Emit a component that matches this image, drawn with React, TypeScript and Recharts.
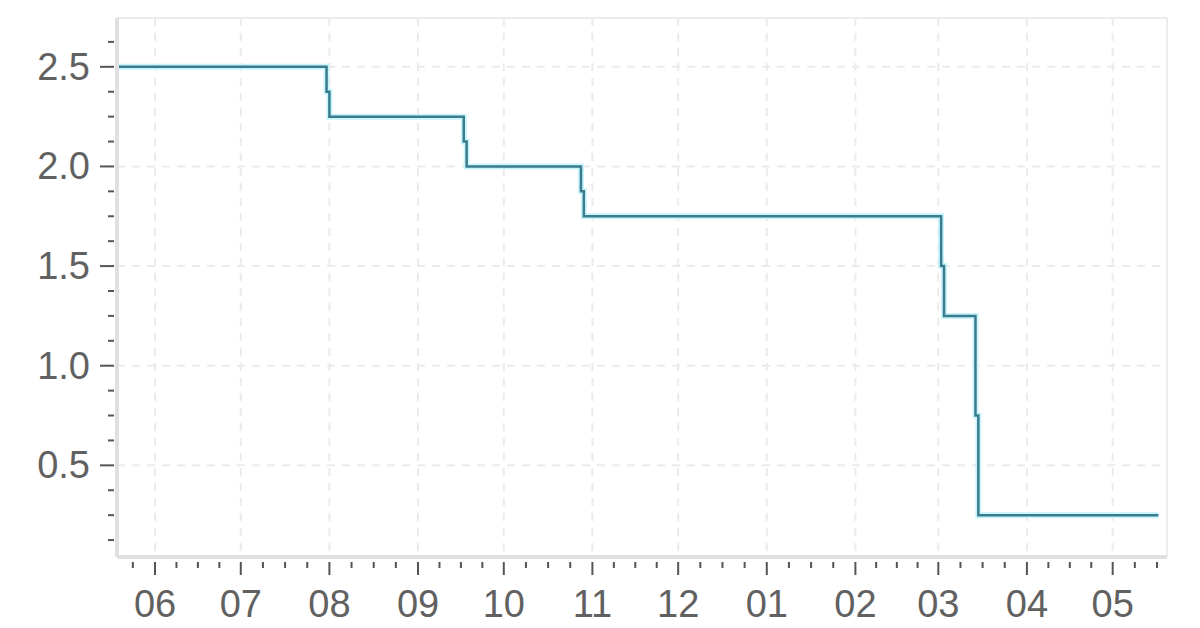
import React from 'react';
import { LineChart, Line, XAxis, YAxis, CartesianGrid, ReferenceLine } from 'recharts';

// policy rate steps (stepAfter), one-day midpoint on each change day
const changeDates = [
  '2019-05-19', '2019-07-31', '2019-08-01', '2019-09-17', '2019-09-18',
  '2019-10-28', '2019-10-29', '2020-03-02', '2020-03-03', '2020-03-14',
  '2020-03-15', '2020-05-17',
];
const rateValues = [2.5, 2.375, 2.25, 2.125, 2.0, 1.875, 1.75, 1.5, 1.25, 0.75, 0.25, 0.25];

const monthStarts = [
  '2019-05-01', '2019-06-01', '2019-07-01', '2019-08-01', '2019-09-01', '2019-10-01',
  '2019-11-01', '2019-12-01', '2020-01-01', '2020-02-01', '2020-03-01', '2020-04-01',
  '2020-05-01', '2020-06-01',
];
const monthLabels = ['05', '06', '07', '08', '09', '10', '11', '12', '01', '02', '03', '04', '05', '06'];

const yMajorTicks = [0.5, 1.0, 1.5, 2.0, 2.5];
const yMinorTicks = [
  0.125, 0.25, 0.375, 0.625, 0.75, 0.875, 1.125, 1.25, 1.375, 1.625, 1.75, 1.875,
  2.125, 2.25, 2.375, 2.625,
];

const ts = (d: string) => new Date(d + 'T00:00:00Z').getTime();
const DAY = 86400000;

const xDomain: [number, number] = [ts('2019-05-18') + 0.7 * DAY, ts('2020-05-20')];
const yDomain: [number, number] = [0.04, 2.745];

const data = changeDates.map((d, i) => ({ t: ts(d), rate: rateValues[i] }));

const monthTs = monthStarts.map(ts);
const labelByTs = new Map<number, string>();
monthTs.forEach((t, i) => labelByTs.set(t, monthLabels[i]));
const majorX = monthTs.filter((t) => t >= xDomain[0] && t <= xDomain[1]);

// quarter-month minor ticks between month starts
const minorX: number[] = [];
for (let i = 0; i < monthTs.length - 1; i++) {
  const span = monthTs[i + 1] - monthTs[i];
  for (let k = 1; k < 4; k++) {
    const t = monthTs[i] + (span * k) / 4;
    if (t >= xDomain[0] && t <= xDomain[1]) minorX.push(t);
  }
}
const xTicks = [...majorX, ...minorX].sort((a, b) => a - b);
const yTicks = [...yMajorTicks, ...yMinorTicks].sort((a, b) => a - b);

const FONT = '"Liberation Sans", Arial, sans-serif';
const TEXT = '#616161';
const TICK = '#555555';

const XTick = (props: any) => {
  const { x, y, payload } = props;
  const label = labelByTs.get(payload.value);
  const major = label !== undefined;
  return (
    <g>
      <line x1={x} x2={x} y1={y + 5} y2={major ? y + 18 : y + 11} stroke={TICK} strokeWidth={2} />
      {major && (
        <text x={x} y={y + 60} textAnchor="middle" fill={TEXT} fontSize={38} fontFamily={FONT}>
          {label}
        </text>
      )}
    </g>
  );
};

const YTick = (props: any) => {
  const { x, y, payload } = props;
  const major = yMajorTicks.includes(payload.value);
  return (
    <g>
      <line x1={major ? x - 17 : x - 9} x2={x - 3} y1={y} y2={y} stroke={TICK} strokeWidth={2} />
      {major && (
        <text x={x - 27} y={y + 13} textAnchor="end" fill={TEXT} fontSize={38} fontFamily={FONT}>
          {payload.value.toFixed(1)}
        </text>
      )}
    </g>
  );
};

export default function App() {
  return (
    <div style={{ position: 'absolute', left: 0, top: 0, width: 1200, height: 628, background: '#fff' }}>
      <LineChart width={1200} height={628} data={data} margin={{ top: 18, right: 33, left: 0, bottom: 0 }}>
        <CartesianGrid
          stroke="#ebebeb"
          strokeWidth={2}
          strokeDasharray="8 7"
          horizontalValues={yMajorTicks}
          verticalValues={majorX}
        />
        <ReferenceLine y={yDomain[1]} stroke="#ececec" strokeWidth={2} />
        <ReferenceLine x={xDomain[1]} stroke="#ececec" strokeWidth={2} />
        <XAxis
          dataKey="t"
          type="number"
          domain={xDomain}
          ticks={xTicks}
          interval={0}
          height={71}
          tickSize={0}
          tickMargin={0}
          tickLine={false}
          axisLine={{ stroke: '#e0e0e0', strokeWidth: 4 }}
          tick={<XTick />}
        />
        <YAxis
          type="number"
          domain={yDomain}
          allowDataOverflow
          ticks={yTicks}
          interval={0}
          width={117}
          tickSize={0}
          tickMargin={0}
          tickLine={false}
          axisLine={{ stroke: '#e0e0e0', strokeWidth: 4 }}
          tick={<YTick />}
        />
        <Line
          type="stepAfter"
          dataKey="rate"
          stroke="#c8f4fb"
          strokeWidth={6}
          dot={false}
          activeDot={false}
          isAnimationActive={false}
        />
        <Line
          type="stepAfter"
          dataKey="rate"
          stroke="#3a7b8e"
          strokeWidth={2.5}
          dot={false}
          activeDot={false}
          isAnimationActive={false}
        />
      </LineChart>
    </div>
  );
}
